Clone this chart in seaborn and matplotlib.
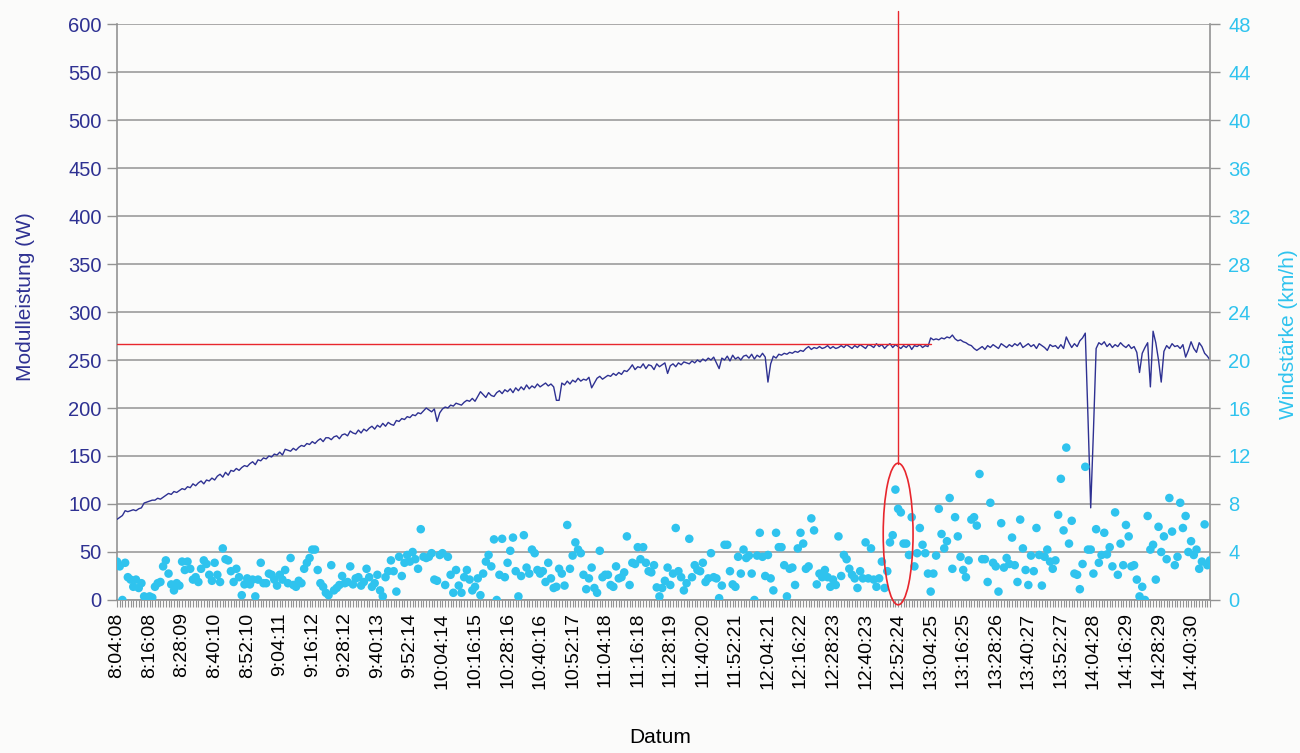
import matplotlib
matplotlib.use("Agg")
import matplotlib.pyplot as plt
import numpy as np
import pandas as pd
import seaborn as sns
from matplotlib.patches import Ellipse

# Modulleistung (W), one sample per minute starting at 8:04:08
leistung = [
    84, 86, 88, 93, 92, 93, 94, 93, 95, 96, 101, 102,
    103, 104, 104, 106, 105, 107, 109, 111, 110, 113, 112, 114,
    116, 115, 118, 117, 121, 119, 122, 124, 121, 125, 124, 127,
    125, 129, 131, 128, 133, 130, 135, 134, 137, 135, 138, 140,
    139, 142, 144, 141, 146, 145, 148, 147, 150, 149, 152, 151,
    154, 151, 157, 156, 155, 158, 156, 159, 161, 160, 163, 162,
    165, 163, 166, 168, 165, 169, 169, 167, 170, 171, 168, 172,
    173, 171, 176, 174, 173, 177, 174, 178, 176, 179, 181, 178,
    182, 180, 184, 181, 185, 183, 182, 187, 186, 189, 188, 191,
    190, 193, 192, 195, 194, 197, 200, 198, 196, 199, 186, 195,
    199, 201, 200, 203, 202, 205, 204, 203, 206, 208, 207, 210,
    207, 212, 217, 214, 211, 216, 213, 212, 216, 218, 215, 219,
    217, 220, 216, 221, 218, 222, 219, 224, 220, 223, 221, 225,
    222, 224, 226, 223, 225, 222, 208, 208, 226, 224, 228, 225,
    229, 227, 231, 228, 230, 229, 232, 221, 226, 231, 233, 230,
    232, 234, 233, 236, 234, 237, 235, 239, 238, 241, 245, 240,
    243, 242, 246, 241, 245, 244, 240, 246, 243, 245, 247, 236,
    244, 246, 243, 247, 245, 248, 247, 246, 249, 247, 250, 248,
    251, 249, 252, 250, 253, 247, 241, 252, 250, 254, 249, 255,
    251, 253, 250, 254, 255, 252, 256, 251, 255, 253, 257, 253,
    227, 246, 254, 252, 256, 255, 257, 256, 258, 257, 259, 258,
    260, 259, 262, 264, 261, 263, 262, 264, 262, 263, 265, 262,
    264, 262, 263, 265, 263, 266, 264, 262, 265, 263, 266, 264,
    262, 266, 265, 263, 267, 264, 266, 262, 265, 267, 263, 266,
    264, 262, 265, 263, 266, 261, 265, 264, 266, 263, 265, 264,
    273, 271, 272, 271, 273, 272, 274, 273, 276, 272, 270, 271,
    269, 268, 266, 265, 262, 260, 262, 264, 261, 265, 263, 266,
    264, 262, 267, 265, 263, 266, 264, 267, 265, 268, 263, 265,
    267, 264, 266, 262, 267, 265, 263, 260, 266, 264, 265, 262,
    266, 262, 274, 268, 263, 267, 264, 270, 273, 278, 190, 96,
    175, 262, 268, 266, 269, 264, 267, 263, 266, 264, 268, 265,
    263, 266, 262, 264, 258, 237, 257, 263, 268, 222, 280, 268,
    250, 227, 259, 265, 262, 267, 264, 265, 262, 266, 253, 260,
    269, 262, 258, 268, 264, 257, 254, 250,
]

# Windstaerke (km/h), same samples
wind = [
    3.2, 2.8, 0.0, 3.1, 1.9, 1.7, 1.1, 1.7, 1.0, 1.4, 0.3, 0.0,
    0.3, 0.2, 1.1, 1.4, 1.5, 2.8, 3.3, 2.2, 1.3, 0.8, 1.4, 1.2,
    3.2, 2.5, 3.2, 2.6, 1.7, 1.9, 1.5, 2.6, 3.3, 3.0, 2.1, 1.6,
    3.1, 2.1, 1.5, 4.3, 3.4, 3.3, 2.4, 1.5, 2.6, 1.9, 0.4, 1.3,
    1.8, 1.3, 1.7, 0.3, 1.7, 3.1, 1.4, 1.4, 2.2, 2.1, 1.7, 1.2,
    2.1, 1.7, 2.5, 1.4, 3.5, 1.25, 1.1, 1.6, 1.4, 2.6, 3.1, 3.5,
    4.2, 4.2, 2.5, 1.4, 1.1, 0.6, 0.4, 2.9, 0.8, 1.0, 1.25, 2.0,
    1.4, 1.5, 2.8, 1.3, 1.8, 1.9, 1.2, 1.5, 2.6, 1.9, 1.1, 1.4,
    2.1, 0.8, 0.3, 1.9, 2.4, 3.3, 2.4, 0.7, 3.6, 2.0, 3.1, 3.75,
    3.2, 4.0, 3.4, 2.6, 5.9, 3.6, 3.5, 3.6, 3.9, 1.7, 1.6, 3.75,
    3.9, 1.25, 3.6, 2.1, 0.6, 2.5, 1.2, 0.6, 1.9, 2.5, 1.7, 0.8,
    1.1, 1.8, 0.4, 2.2, 3.2, 3.75, 2.8, 5.05, 0.0, 2.1, 5.1, 1.9,
    3.1, 4.1, 5.2, 2.4, 0.3, 2.0, 5.4, 2.7, 2.2, 4.2, 3.9, 2.5,
    2.2, 2.4, 1.5, 3.1, 1.8, 1.0, 1.1, 2.6, 2.2, 1.2, 6.25, 2.6,
    3.7, 4.8, 4.2, 3.9, 2.1, 0.9, 1.8, 2.7, 1.0, 0.6, 4.1, 1.9,
    2.1, 2.1, 1.25, 1.1, 2.8, 1.8, 1.9, 2.3, 5.3, 1.25, 3.1, 3.0,
    4.4, 3.4, 4.4, 3.1, 2.4, 2.3, 2.9, 1.05, 0.3, 1.0, 1.6, 2.7,
    1.25, 2.2, 6.0, 2.4, 1.9, 0.8, 1.4, 5.1, 1.9, 2.9, 2.5, 2.4,
    3.1, 1.5, 1.8, 3.9, 1.9, 1.8, 0.15, 1.2, 4.6, 4.6, 2.4, 1.3,
    1.1, 3.6, 2.2, 4.2, 3.5, 3.7, 2.2, 0.0, 3.7, 5.6, 3.6, 2.0,
    3.75, 1.8, 0.8, 5.6, 4.4, 4.4, 2.9, 0.3, 2.6, 2.7, 1.25, 4.3,
    5.6, 4.7, 2.6, 2.8, 6.8, 5.8, 1.3, 2.2, 1.9, 2.5, 1.9, 1.1,
    1.7, 1.25, 5.3, 2.0, 3.75, 3.4, 2.6, 2.1, 1.8, 1.0, 2.4, 1.8,
    4.8, 1.8, 4.3, 1.7, 1.1, 1.8, 3.2, 1.0, 2.4, 4.8, 5.4, 9.2,
    7.6, 7.3, 4.7, 4.7, 3.75, 6.9, 2.8, 3.9, 6.0, 4.6, 3.9, 2.2,
    0.7, 2.2, 3.7, 7.6, 5.5, 4.3, 4.9, 8.5, 2.6, 6.9, 5.3, 3.6,
    2.5, 1.9, 3.3, 6.7, 6.9, 6.2, 10.5, 3.4, 3.4, 1.5, 8.1, 3.1,
    2.8, 0.7, 6.4, 2.7, 3.5, 3.0, 5.2, 2.9, 1.5, 6.7, 4.3, 2.5,
    1.25, 3.7, 2.4, 6.0, 3.75, 1.2, 3.6, 4.2, 3.2, 2.6, 3.3, 7.1,
    10.1, 5.8, 12.7, 4.7, 6.6, 2.2, 2.1, 0.9, 3.0, 11.1, 4.2, 4.2,
    2.2, 5.9, 3.1, 3.75, 5.6, 3.8, 4.4, 2.8, 7.3, 2.1, 4.7, 2.9,
    6.25, 5.3, 2.8, 2.9, 1.7, 0.3, 1.1, 0.0, 7.0, 4.2, 4.6, 1.7,
    6.1, 4.0, 5.3, 3.4, 8.5, 5.7, 2.9, 3.6, 8.1, 6.0, 7.0, 4.0,
    4.9, 3.75, 4.2, 2.6, 3.2, 6.3, 2.9, 3.3,
]

# every 12th sample is labelled
zeit_labels = [
    "8:04:08", "8:16:08", "8:28:09", "8:40:10", "8:52:10", "9:04:11",
    "9:16:12", "9:28:12", "9:40:13", "9:52:14", "10:04:14", "10:16:15",
    "10:28:16", "10:40:16", "10:52:17", "11:04:18", "11:16:18", "11:28:19",
    "11:40:20", "11:52:21", "12:04:21", "12:16:22", "12:28:23", "12:40:23",
    "12:52:24", "13:04:25", "13:16:25", "13:28:26", "13:40:27", "13:52:27",
    "14:04:28", "14:16:29", "14:28:29", "14:40:30",
]

# marked reading (red cross-hair)
ref_leistung = 266.7
ref_sample = 288

navy = "#2e3192"
cyan = "#2fc3ee"
red = "#e8262d"
grey = "#939393"

df = pd.DataFrame({"messung": np.arange(len(leistung)),
                   "leistung": leistung, "wind": wind})

sns.set_theme(style="white")
plt.rcParams["font.family"] = ["Liberation Sans", "DejaVu Sans"]

fig, ax = plt.subplots(figsize=(13, 7.53), dpi=100)
fig.patch.set_facecolor("#fbfbfa")
ax.set_facecolor("#fbfbfa")
fig.subplots_adjust(left=0.09, right=0.9308, bottom=0.2032, top=0.9681)

# power line on left axis
sns.lineplot(data=df, x="messung", y="leistung", ax=ax, color=navy,
             linewidth=1.0, zorder=3)
ax.set_ylim(0, 600)
ax.set_yticks(range(0, 601, 50))
ax.set_xlim(0, len(leistung) - 1)
ax.yaxis.grid(True, color=grey, linewidth=1.1)
ax.xaxis.grid(False)

tick_pos = list(range(0, len(leistung), 12))[:len(zeit_labels)]
ax.set_xticks(tick_pos)
ax.set_xticklabels(zeit_labels, rotation=90, fontsize=14, color="black")
ax.set_xticks(df["messung"], minor=True)
ax.tick_params(axis="x", which="both", bottom=True, direction="out",
               length=5, width=0.8, color=grey, pad=4)
ax.tick_params(axis="y", left=True, direction="out", length=7, width=1,
               color=grey, labelcolor=navy, labelsize=14.5, pad=4)

for side in ("top", "right"):
    ax.spines[side].set_visible(False)
for side in ("left", "bottom"):
    ax.spines[side].set_color(grey)
    ax.spines[side].set_linewidth(1.2)

ax.set_xlabel("Datum", fontsize=15, color="black")
ax.xaxis.set_label_coords(0.497, -0.222)
ax.set_ylabel("Modulleistung (W)", fontsize=15, color=navy)
ax.yaxis.set_label_coords(-0.075, 0.526)

# red cross-hair
ax.plot([0, 300], [ref_leistung, ref_leistung], color=red, lw=1.0, zorder=5)
ax.plot([ref_sample, ref_sample], [614, 142], color=red, lw=1.0,
        zorder=5, clip_on=False)

# wind speed on right axis
ax2 = ax.twinx()
sns.scatterplot(data=df, x="messung", y="wind", ax=ax2, color=cyan,
                s=38, edgecolor="none", linewidth=0, zorder=4)
ax2.set_ylim(0, 48)
ax2.set_yticks(range(0, 49, 4))
ax2.set_xlim(0, len(leistung) - 1)
ax2.grid(False)
ax2.tick_params(axis="y", right=True, direction="out", length=7, width=1,
                color=grey, labelcolor=cyan, labelsize=14.5, pad=6)
for side in ("top", "left", "bottom"):
    ax2.spines[side].set_visible(False)
ax2.spines["right"].set_color(grey)
ax2.spines["right"].set_linewidth(1.2)
ax2.set_xlabel("")
ax2.set_ylabel("Windstärke (km/h)", fontsize=15, color=cyan)
ax2.yaxis.set_label_coords(1.063, 0.462)

ax2.add_patch(Ellipse((ref_sample, 5.5), width=11, height=11.8,
                      fill=False, edgecolor=red, lw=1.2, clip_on=False,
                      zorder=6))

fig.savefig("out.png", dpi=100, facecolor=fig.get_facecolor())
